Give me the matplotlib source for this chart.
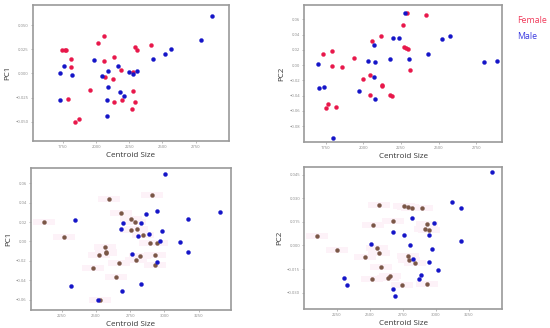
import matplotlib
matplotlib.use("Agg")
from matplotlib import pyplot as plt
from matplotlib.path import Path

# panel 1: PC1 vs centroid size (top left)
p1_female_x = [1745, 1765, 1775, 1812, 1812, 1787, 1840, 1875, 1955, 2015, 2057, 2057,
               2070, 2125, 2132, 2132, 2187, 2195, 2270, 2277, 2277, 2290, 2295, 2312, 2412]
p1_female_y = [0.0238, 0.0241, 0.0241, 0.0145, 0.0066, -0.0266, -0.050, -0.047, -0.017,
               0.032, 0.039, 0.0128, -0.0038, -0.0062, 0.0172, -0.0297, 0.0035, -0.0272,
               -0.0366, 0.0014, -0.018, -0.030, 0.0276, 0.0248, 0.029]
p1_male_x = [1725, 1730, 1762, 1820, 1987, 2045, 2087, 2087, 2082, 2080, 2165, 2180,
             2207, 2245, 2280, 2305, 2427, 2520, 2567, 2787, 2870]
p1_male_y = [-0.027, 0.0, 0.0076, -0.002, 0.0135, -0.0024, 0.0024, -0.0138, -0.028,
             -0.044, 0.0079, -0.019, -0.023, 0.001, -0.0007, 0.0024, 0.0152, 0.0197,
             0.0252, 0.0348, 0.0597]

# panel 2: PC2 vs centroid size (top right)
p2_female_x = [1730, 1792, 1792, 1861, 1750, 1768, 1821, 1938, 2000, 2046, 2046, 2055,
               2117, 2122, 2122, 2177, 2188, 2265, 2270, 2281, 2294, 2288, 2307, 2414]
p2_female_y = [0.0144, 0.0179, -0.0013, -0.0026, -0.0569, -0.0516, -0.0547, 0.0092,
               -0.0179, -0.0131, -0.0398, 0.0311, 0.0385, -0.0267, -0.028, -0.039, -0.040,
               0.0525, 0.0241, 0.0228, 0.0206, 0.069, -0.007, 0.0652]
p2_male_x = [1701, 1704, 1739, 1801, 1973, 2033, 2071, 2077, 2071, 2077, 2175, 2199,
             2239, 2274, 2303, 2427, 2524, 2573, 2803, 2889]
p2_male_y = [0.0018, -0.0306, -0.0289, -0.0954, -0.0341, 0.0048, 0.0258, 0.0044, -0.0158,
             -0.045, 0.0079, 0.0354, 0.0354, 0.0687, 0.0083, 0.0144, 0.0346, 0.038,
             0.0035, 0.0048]

# panel 3: PC1 vs centroid size (bottom left)
p3_brown_x = [2121, 2267, 2479, 2520, 2564, 2571, 2576, 2595, 2649, 2666, 2686, 2754,
              2759, 2788, 2790, 2802, 2819, 2844, 2892, 2912, 2929, 2929, 2948, 2527]
p3_brown_y = [0.0199, 0.0045, -0.0278, -0.0144, -0.0058, -0.0107, -0.0117, 0.044, -0.0364,
              -0.0223, 0.0295, 0.0117, 0.0234, 0.0199, -0.0189, 0.0131, -0.0148, 0.0062,
              -0.0014, 0.0474, -0.0141, -0.0244, -0.0014, -0.0608]
p3_blue_x = [2318, 2345, 2515, 2683, 2688, 2698, 2761, 2807, 2826, 2826, 2868, 2885,
             2946, 2948, 2965, 2982, 3007, 3116, 3175, 3175, 3408]
p3_blue_y = [-0.046, 0.0216, -0.0605, 0.0131, -0.0512, 0.0186, -0.0127, 0.0058, 0.0186,
             -0.0436, 0.0278, 0.0079, -0.021, 0.0316, 0.0, 0.0107, 0.0691, -0.001, 0.0234,
             -0.0107, 0.0299]

# panel 4: PC2 vs centroid size (bottom right)
p4_brown_x = [2101, 2250, 2467, 2513, 2556, 2566, 2571, 2523, 2583, 2636, 2654, 2674,
              2747, 2757, 2788, 2788, 2800, 2818, 2843, 2894, 2919, 2932, 2932, 2949]
p4_brown_y = [0.0057, -0.0028, -0.0076, -0.0212, -0.0017, -0.0051, 0.0259, 0.0131, -0.0136,
              -0.021, -0.0193, 0.0153, -0.0254, 0.0248, 0.0246, -0.0064, -0.0093, 0.0235,
              -0.0114, 0.0237, 0.0104, 0.0136, -0.0244, 0.0095]
p4_blue_x = [2306, 2328, 2508, 2679, 2679, 2694, 2757, 2808, 2823, 2825, 2869, 2884,
             2949, 2949, 2970, 2987, 3013, 3124, 3187, 3187, 3424]
p4_blue_y = [-0.0206, -0.025, 0.0011, 0.0085, -0.028, -0.0322, 0.0068, 0.0, 0.0176, -0.0089,
             -0.0214, -0.0189, 0.0068, -0.0104, -0.0023, 0.0142, -0.0157, 0.0278, 0.0235,
             0.003, 0.0464]

RED = "#e8174a"
BLUE = "#1414c8"
BROWN = "#7a5646"
GRAY = "#9a9a9a"

# wide faint box marker for the pink halos behind the brown points
box = Path([(-2.2, -0.6), (2.2, -0.6), (2.2, 0.6), (-2.2, 0.6), (-2.2, -0.6)],
           [Path.MOVETO, Path.LINETO, Path.LINETO, Path.LINETO, Path.CLOSEPOLY])

plt.rcParams['font.family'] = ['Open Sans', 'DejaVu Sans']
fig = plt.figure(figsize=(5.5, 3.28), dpi=100)

panels = [
    ([0.060, 0.570, 0.356, 0.415], "PC1", (1525, 3000), (-0.070, 0.071),
     [1750, 2000, 2250, 2500, 2750], [0.050, 0.025, 0.000, -0.025, -0.050], "{:.3f}",
     [(p1_female_x, p1_female_y, RED), (p1_male_x, p1_male_y, BLUE)], False),
    ([0.553, 0.567, 0.360, 0.418], "PC2", (1608, 2920), (-0.101, 0.079),
     [1750, 2000, 2250, 2500, 2750], [0.06, 0.04, 0.02, 0.00, -0.02, -0.04, -0.06, -0.08], "{:.2f}",
     [(p2_female_x, p2_female_y, RED), (p2_male_x, p2_male_y, BLUE)], False),
    ([0.056, 0.055, 0.364, 0.433], "PC1", (2024, 3486), (-0.0707, 0.0758),
     [2250, 2500, 2750, 3000, 3250], [0.06, 0.04, 0.02, 0.00, -0.02, -0.04, -0.06], "{:.2f}",
     [(p3_brown_x, p3_brown_y, BROWN), (p3_blue_x, p3_blue_y, BLUE)], True),
    ([0.553, 0.058, 0.360, 0.433], "PC2", (2003, 3502), (-0.0404, 0.0499),
     [2250, 2500, 2750, 3000, 3250], [0.045, 0.030, 0.015, 0.000, -0.015, -0.030], "{:.3f}",
     [(p4_brown_x, p4_brown_y, BROWN), (p4_blue_x, p4_blue_y, BLUE)], True),
]

for rect, ylab, xl, yl, xt, yt, fmt, groups, halo in panels:
    ax = fig.add_axes(rect)
    if halo:
        bx, by, _ = groups[0]
        ax.scatter(bx, by, s=240, marker=box, color="#fdf2f8", linewidths=0, zorder=1)
    for gx, gy, col in groups:
        ax.scatter(gx, gy, s=8, color=col, edgecolors=col, linewidths=0.3, zorder=3)
    ax.set_xlim(*xl)
    ax.set_ylim(*yl)
    ax.set_xticks(xt)
    ax.set_xticklabels([str(v) for v in xt])
    ax.set_yticks(yt)
    ax.set_yticklabels([fmt.format(v).replace("-", "\u2212") for v in yt])
    ax.tick_params(labelsize=3, colors="#888888", length=1.5, width=0.4, pad=1.5)
    for sp in ax.spines.values():
        sp.set_color(GRAY)
        sp.set_linewidth(1.2)
    ax.set_xlabel("Centroid Size", fontsize=5.8, color="#333333", labelpad=2)
    ax.set_ylabel(ylab, fontsize=5.8, color="#333333", labelpad=3)

fig.text(0.940, 0.937, "Female", color="#f03a5a", fontsize=6.3, ha="left", va="center")
fig.text(0.940, 0.890, "Male", color="#3a3ae0", fontsize=6.3, ha="left", va="center")

plt.savefig("out.png", dpi=100)
plt.close()
